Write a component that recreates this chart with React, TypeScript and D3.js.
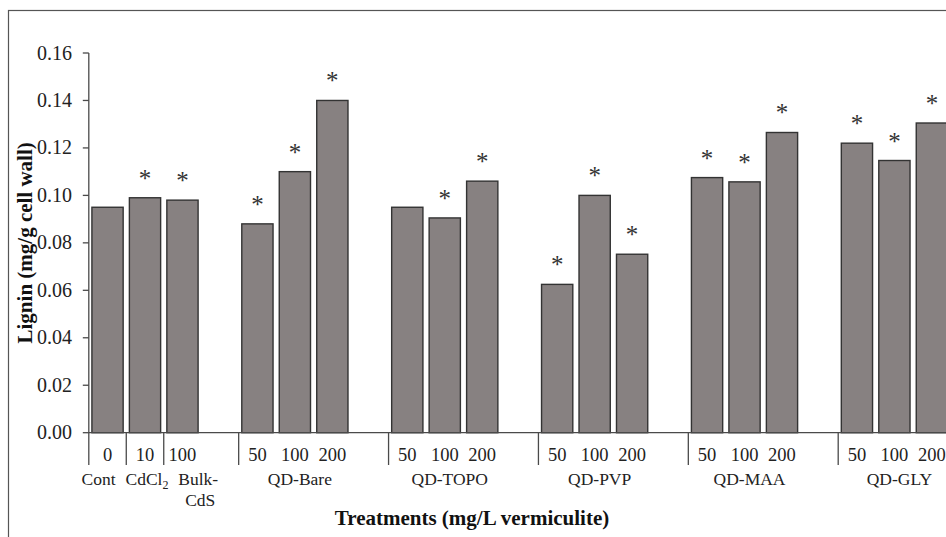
import React from "react";
import * as d3 from "d3";

const groups = ["Cont", "CdCl2", "Bulk-CdS", "QD-Bare", "QD-TOPO", "QD-PVP", "QD-MAA", "QD-GLY"];
const barGroup = [0, 1, 2, 3, 3, 3, 4, 4, 4, 5, 5, 5, 6, 6, 6, 7, 7, 7];
const doses = ["0", "10", "100", "50", "100", "200", "50", "100", "200", "50", "100", "200", "50", "100", "200", "50", "100", "200"];
const lignin = [0.095, 0.099, 0.098, 0.088, 0.11, 0.14, 0.095, 0.0905, 0.106, 0.0625, 0.1, 0.0752, 0.1075, 0.1057, 0.1265, 0.122, 0.1147, 0.1305];
const significant = [false, true, true, true, true, true, false, true, true, true, true, true, true, true, true, true, true, true];
const yTicks = [0, 0.02, 0.04, 0.06, 0.08, 0.1, 0.12, 0.14, 0.16];

const W = 946;
const H = 537;
const X0 = 88.8;
const SLOT = 37.47;

export default function App() {
  // slot assignment: a blank slot after each group from Bulk-CdS onward
  const slotOf: number[] = [];
  const groupStart: number[] = [];
  let s = 0;
  barGroup.forEach((g, i) => {
    if (i > 0 && g !== barGroup[i - 1]) {
      if (barGroup[i - 1] >= 2) s += 1;
    }
    if (groupStart[g] === undefined) groupStart[g] = s;
    slotOf.push(s);
    s += 1;
  });
  const nSlots = s;
  const slots = d3.range(nSlots).map(String);
  const pad = 0.166;
  const x = d3
    .scaleBand<string>()
    .domain(slots)
    .range([X0, X0 + nSlots * SLOT])
    .paddingInner(pad)
    .paddingOuter(pad / 2);
  const y = d3.scaleLinear().domain([0, 0.16]).range([432.7, 53]);
  const fmt = d3.format(".2f");
  const slotCenter = (k: number) => X0 + (k + 0.5) * SLOT;
  const slotLeft = (k: number) => X0 + k * SLOT;

  const groupLabelX = (g: number) => {
    const idx = barGroup.map((bg, i) => (bg === g ? i : -1)).filter((i) => i >= 0);
    const mid = slotOf[idx[Math.floor(idx.length / 2)]];
    if (g === 0) return slotCenter(mid) - 9;
    if (g === 1) return slotCenter(mid) + 2;
    if (g === 2) return slotLeft(mid + 1) - 1;
    return slotCenter(mid) + 5;
  };

  const serif = "'Liberation Serif', 'Times New Roman', serif";
  const axisColor = "#4a4a4a";

  return (
    <svg
      width={W}
      height={H}
      style={{ position: "absolute", left: 0, top: 0, background: "#fff" }}
      fontFamily={serif}
    >
      <rect x={0} y={0} width={W} height={H} fill="#fff" />
      <rect x={8.5} y={10.5} width={1200} height={800} fill="none" stroke="#555" strokeWidth={1.2} />

      {/* bars */}
      {lignin.map((v, i) => (
        <rect
          key={"b" + i}
          x={x(String(slotOf[i]))}
          y={y(v)}
          width={x.bandwidth()}
          height={y(0) - y(v)}
          fill="#878181"
          stroke="#333"
          strokeWidth={1.4}
        />
      ))}

      {/* asterisks */}
      {lignin.map((v, i) =>
        significant[i] ? (
          <text
            key={"s" + i}
            x={(x(String(slotOf[i])) as number) + x.bandwidth() / 2}
            y={y(v) - 11}
            textAnchor="middle"
            fontSize={25}
            fill="#333"
          >
            *
          </text>
        ) : null
      )}

      {/* y axis */}
      <line x1={X0} x2={X0} y1={y(0.16)} y2={465} stroke={axisColor} strokeWidth={1.3} />
      {yTicks.map((t) => (
        <g key={"t" + t}>
          <line x1={X0 - 6} x2={X0} y1={y(t)} y2={y(t)} stroke={axisColor} strokeWidth={1.3} />
          <text x={72} y={y(t) + 6.5} textAnchor="end" fontSize={20} fill="#222">
            {fmt(t)}
          </text>
        </g>
      ))}

      {/* x axis */}
      <line x1={X0} x2={X0 + nSlots * SLOT} y1={y(0)} y2={y(0)} stroke={axisColor} strokeWidth={1.3} />
      {groupStart.map((k, g) =>
        g === 0 ? null : (
          <line
            key={"sep" + g}
            x1={slotLeft(k)}
            x2={slotLeft(k)}
            y1={y(0)}
            y2={465}
            stroke={axisColor}
            strokeWidth={1.3}
          />
        )
      )}
      {doses.map((d, i) => (
        <text key={"d" + i} x={slotCenter(slotOf[i])} y={461} textAnchor="middle" fontSize={18.5} fill="#222">
          {d}
        </text>
      ))}
      {groups.map((g, gi) => {
        const gx = groupLabelX(gi);
        if (g === "CdCl2") {
          return (
            <text key={"g" + gi} x={gx} y={485} textAnchor="middle" fontSize={17.5} fill="#222">
              CdCl
              <tspan fontSize={12} dy={4}>
                2
              </tspan>
            </text>
          );
        }
        if (g === "Bulk-CdS") {
          return (
            <text key={"g" + gi} x={gx} y={485} textAnchor="middle" fontSize={17.5} fill="#222">
              <tspan x={gx - 2}>Bulk-</tspan>
              <tspan x={gx} dy={21}>
                CdS
              </tspan>
            </text>
          );
        }
        return (
          <text key={"g" + gi} x={gx} y={485} textAnchor="middle" fontSize={17.5} fill="#222">
            {g}
          </text>
        );
      })}

      {/* axis titles */}
      <text x={472} y={525} textAnchor="middle" fontSize={21} fontWeight="bold" fill="#111">
        Treatments (mg/L vermiculite)
      </text>
      <text
        transform={`translate(32,${(y(0) + y(0.16)) / 2}) rotate(-90)`}
        textAnchor="middle"
        fontSize={21}
        fontWeight="bold"
        fill="#111"
      >
        Lignin (mg/g cell wall)
      </text>
    </svg>
  );
}
